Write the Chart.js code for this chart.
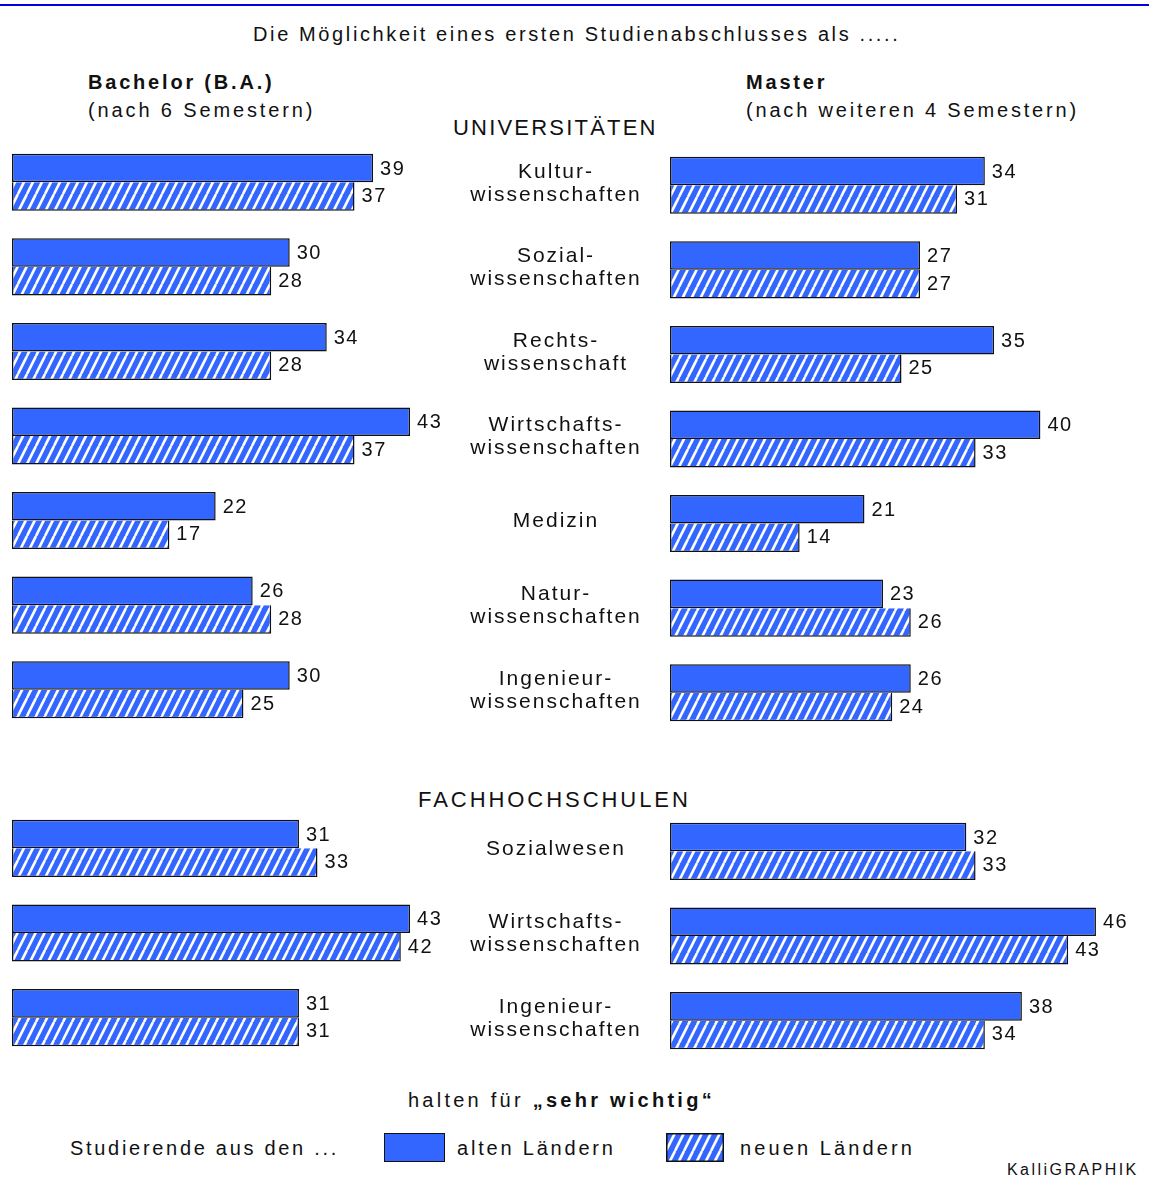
<!DOCTYPE html>
<html>
<head>
<meta charset="utf-8">
<script src="https://cdn.jsdelivr.net/npm/chart.js@4.4.0/dist/chart.umd.min.js"></script>
<style>
body{margin:0;background:#fff;width:1149px;height:1178px;position:relative;overflow:hidden;font-family:"Liberation Sans",Arial,sans-serif;color:#111;}
.t{position:absolute;white-space:nowrap;line-height:1;font-size:20px;letter-spacing:2.8px;}
canvas{position:absolute;}
.sw{position:absolute;box-sizing:border-box;border:1.5px solid #111;}
</style>
</head>
<body>
<div style="position:absolute;left:0;top:4px;width:1149px;height:2px;background:#0000dd"></div>

<div class="t" style="left:253px;top:24px;letter-spacing:2.62px">Die Möglichkeit eines ersten Studienabschlusses als .....</div>
<div class="t" style="left:88px;top:72px;font-weight:bold">Bachelor (B.A.)</div>
<div class="t" style="left:88px;top:100px;letter-spacing:2.87px">(nach 6 Semestern)</div>
<div class="t" style="left:746px;top:72px;font-weight:bold">Master</div>
<div class="t" style="left:746px;top:100px;letter-spacing:2.82px">(nach weiteren 4 Semestern)</div>
<div class="t" style="left:453px;top:117px;font-size:22px;letter-spacing:2.2px">UNIVERSITÄTEN</div>
<div class="t" style="left:418px;top:789px;font-size:22px;letter-spacing:2.95px">FACHHOCHSCHULEN</div>
<div class="t" style="left:408px;top:1090px;letter-spacing:3.25px">halten für <b>„sehr wichtig“</b></div>

<div class="t" style="left:70px;top:1138px;letter-spacing:2.7px">Studierende aus den ...</div>
<div class="sw" style="left:384px;top:1133px;width:61px;height:29px;background:#3366ff"></div>
<div class="t" style="left:457px;top:1138px;letter-spacing:2.8px">alten Ländern</div>
<canvas id="swNeu" width="58" height="29" style="left:666px;top:1133px"></canvas>
<div class="t" style="left:740px;top:1138px;letter-spacing:3.1px">neuen Ländern</div>
<div class="t" style="left:1007px;top:1162px;font-size:16px;letter-spacing:2.45px">KalliGRAPHIK</div>

<canvas id="bUni" width="660" height="592" style="left:0;top:140px"></canvas>
<canvas id="mUni" width="463" height="592" style="left:670px;top:143px"></canvas>
<canvas id="bFh" width="660" height="254" style="left:0;top:806px"></canvas>
<canvas id="mFh" width="463" height="254" style="left:670px;top:809px"></canvas>

<script>
// Fächer
var categoriesUni = [['Kultur-','wissenschaften'], ['Sozial-','wissenschaften'], ['Rechts-','wissenschaft'],
                     ['Wirtschafts-','wissenschaften'], ['Medizin'], ['Natur-','wissenschaften'], ['Ingenieur-','wissenschaften']];
var categoriesFh = [['Sozialwesen'], ['Wirtschafts-','wissenschaften'], ['Ingenieur-','wissenschaften']];

// "sehr wichtig" in %
var bachelorUniAlt = [39, 30, 34, 43, 22, 26, 30];
var bachelorUniNeu = [37, 28, 28, 37, 17, 28, 25];
var masterUniAlt   = [34, 27, 35, 40, 21, 23, 26];
var masterUniNeu   = [31, 27, 25, 33, 14, 26, 24];
var bachelorFhAlt  = [31, 43, 31];
var bachelorFhNeu  = [33, 42, 31];
var masterFhAlt    = [32, 46, 38];
var masterFhNeu    = [33, 43, 34];

var seriesNames = ['alten Ländern', 'neuen Ländern'];

var BLUE = '#3366ff';
var FONT = '"Liberation Sans", Arial, sans-serif';

function makeHatch(ctx) {
    var c = document.createElement('canvas');
    c.width = 9; c.height = 18;
    var g = c.getContext('2d');
    g.fillStyle = BLUE;
    g.fillRect(0, 0, 9, 18);
    g.strokeStyle = '#fff';
    g.lineWidth = 2.6;
    [-9, 0, 9].forEach(function (dx) {
        g.beginPath();
        g.moveTo(dx, 18);
        g.lineTo(dx + 9, 0);
        g.stroke();
    });
    return ctx.createPattern(c, 'repeat');
}

// legend swatch
var sw = document.getElementById('swNeu').getContext('2d');
sw.fillStyle = makeHatch(sw);
sw.fillRect(0, 0, 58, 29);
sw.strokeStyle = '#111';
sw.lineWidth = 1.5;
sw.strokeRect(0.75, 0.75, 56.5, 27.5);

// value labels behind each bar
var valueLabels = {
    id: 'valueLabels',
    afterDatasetsDraw: function (chart) {
        var ctx = chart.ctx;
        ctx.save();
        ctx.font = '20px ' + FONT;
        ctx.letterSpacing = '1.5px';
        ctx.fillStyle = '#111';
        ctx.textAlign = 'left';
        ctx.textBaseline = 'middle';
        chart.data.datasets.forEach(function (ds, i) {
            chart.getDatasetMeta(i).data.forEach(function (el, j) {
                ctx.fillText(String(ds.data[j]), el.x + 7, el.y + (i === 0 ? 1 : 0));
            });
        });
        ctx.restore();
    }
};

// Fach labels in the middle column
var midLabels = {
    id: 'midLabels',
    afterDraw: function (chart) {
        var ctx = chart.ctx;
        var y = chart.scales.y;
        ctx.save();
        ctx.font = '21px ' + FONT;
        ctx.letterSpacing = '2px';
        ctx.fillStyle = '#111';
        ctx.textAlign = 'center';
        ctx.textBaseline = 'middle';
        chart.data.labels.forEach(function (lab, j) {
            var cy = y.getPixelForValue(j) + 1;
            if (lab.length === 1) {
                ctx.fillText(lab[0], 556, cy);
            } else {
                ctx.fillText(lab[0], 556, cy - 11.5);
                ctx.fillText(lab[1], 556, cy + 11.5);
            }
        });
        ctx.restore();
    }
};

function makeChart(id, labels, alt, neu, xMax, padLeft, withMid) {
    var ctx = document.getElementById(id).getContext('2d');
    return new Chart(ctx, {
        type: 'bar',
        data: {
            labels: labels,
            datasets: [{
                label: seriesNames[0],
                data: alt,
                backgroundColor: BLUE,
                borderColor: '#111',
                borderWidth: 1.5,
                borderSkipped: false
            }, {
                label: seriesNames[1],
                data: neu,
                backgroundColor: makeHatch(ctx),
                borderColor: '#111',
                borderWidth: 1.5,
                borderSkipped: 'top'
            }]
        },
        options: {
            indexAxis: 'y',
            responsive: false,
            animation: false,
            events: [],
            layout: { padding: { left: padLeft, right: 0, top: 0, bottom: 0 } },
            datasets: { bar: { categoryPercentage: 0.675, barPercentage: 1.0 } },
            scales: {
                x: { display: false, min: 0, max: xMax },
                y: { display: false }
            },
            plugins: { legend: { display: false }, tooltip: { enabled: false } }
        },
        plugins: withMid ? [valueLabels, midLabels] : [valueLabels]
    });
}

makeChart('bUni', categoriesUni, bachelorUniAlt, bachelorUniNeu, 70, 12, true);
makeChart('mUni', categoriesUni, masterUniAlt, masterUniNeu, 50, 0, false);
makeChart('bFh', categoriesFh, bachelorFhAlt, bachelorFhNeu, 70, 12, true);
makeChart('mFh', categoriesFh, masterFhAlt, masterFhNeu, 50, 0, false);
</script>
</body>
</html>
